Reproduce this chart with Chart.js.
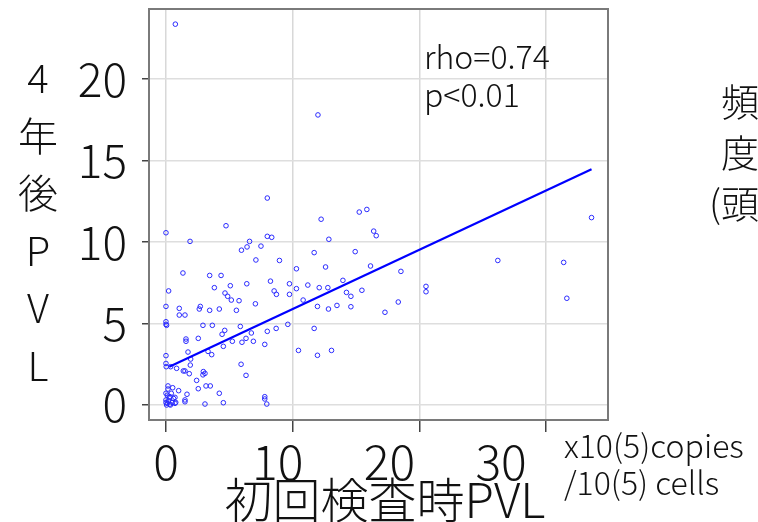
<!DOCTYPE html>
<html>
<head>
<meta charset="utf-8">
<script src="https://cdn.jsdelivr.net/npm/chart.js@4"></script>
<style>
  html, body { margin: 0; padding: 0; background: #fff; }
  #wrap { width: 758px; height: 522px; position: relative; }
</style>
</head>
<body>
<div id="wrap"><canvas id="pvl"></canvas></div>
<script>
// PVL at first exam vs PVL four years later (x10^5 copies / 10^5 cells)

const initialPvl = [
  0.74, 12.0, 8.0, 12.25, 15.26, 15.86, 33.6, 0.0, 4.74, 1.9,
  12.86, 8.0, 8.35, 6.6, 16.4, 16.6, 5.96, 6.4, 7.5, 11.7,
  14.94, 7.1, 8.96, 12.6, 10.3, 26.2, 31.4, 16.15, 18.55, 1.34,
  3.45, 4.35, 3.82, 5.08, 6.38, 8.25, 9.75, 11.2, 12.1, 12.78,
  10.3, 8.54, 8.72, 9.75, 0.21, 4.66, 4.87, 5.16, 5.77, 10.83,
  13.97, 14.25, 14.6, 15.47, 20.53, 20.53, 31.65, 2.71, 0.0, 1.05,
  2.63, 3.45, 4.21, 5.56, 7.06, 11.96, 12.83, 13.5, 14.6, 18.34,
  17.29, 1.05, 1.5, 0.0, 0.0, 0.05, 2.92, 3.66, 5.87, 9.62,
  11.7, 8.7, 8.0, 4.64, 4.43, 6.74, 6.32, 6.0, 6.9, 7.8,
  5.24, 4.53, 2.55, 1.58, 1.58, 3.32, 3.61, 1.74, 1.95, 1.92,
  0.0, 0.0, 0.02, 0.37, 0.84, 1.37, 1.5, 1.84, 2.95, 3.08,
  2.92, 5.93, 6.32, 10.46, 11.96, 13.07, 2.42, 3.16, 3.5, 2.55,
  4.21, 1.66, 1.0, 0.53, 0.16, 0.16, 0.0, 0.32, 0.71, 1.5,
  1.5, 0.77, 0.0, 0.05, 3.08, 4.53, 7.8, 7.8, 7.96, 0.42,
  0.1, 0.3, 0.5, 0.2, 0.0, 0.35, 0.6, 0.25, 0.1, 0.71,
];
const laterPvl = [
  23.37, 17.8, 12.7, 11.4, 11.84, 12.0, 11.5, 10.57, 11.0, 10.04,
  10.17, 10.35, 10.29, 10.04, 10.67, 10.39, 9.5, 9.7, 9.75, 9.35,
  9.41, 8.9, 8.87, 8.47, 8.36, 8.87, 8.75, 8.53, 8.2, 8.1,
  7.95, 7.95, 7.2, 7.32, 7.44, 7.6, 7.44, 7.36, 7.2, 7.2,
  7.14, 7.0, 6.79, 6.79, 7.0, 6.87, 6.67, 6.44, 6.4, 6.44,
  7.65, 6.91, 6.67, 7.04, 7.28, 6.95, 6.55, 6.05, 6.05, 5.93,
  5.89, 5.81, 5.89, 5.81, 6.21, 6.05, 5.89, 6.11, 6.03, 6.32,
  5.69, 5.52, 5.52, 5.11, 4.95, 4.89, 4.89, 4.89, 4.82, 4.95,
  4.7, 4.7, 4.52, 4.58, 4.34, 4.42, 4.09, 3.85, 3.91, 3.72,
  3.91, 3.6, 4.09, 4.05, 3.91, 3.29, 3.09, 3.25, 2.82, 2.45,
  3.03, 2.55, 2.35, 2.35, 2.25, 2.09, 2.09, 1.92, 2.05, 1.94,
  1.85, 2.5, 1.82, 3.35, 3.05, 3.35, 1.51, 1.17, 1.17, 1.0,
  0.72, 0.66, 0.88, 1.06, 1.17, 0.98, 0.72, 0.51, 0.47, 0.31,
  0.2, 0.16, 0.31, 0.0, 0.06, 0.14, 0.51, 0.37, 0.06, 0.72,
  0.1, 0.05, 0.15, 0.25, 0.15, 0.0, 0.4, 0.45, 0.6, 0.1,
];

// regression line end points
const fitX = [0.26, 33.6];
const fitY = [2.35, 14.46];

const xTicks = [0, 10, 20, 30];
const yTicks = [0, 5, 10, 15, 20];

const FONT = '"Noto Sans CJK JP", "Noto Sans", sans-serif';
const INK = '#111';

// keep the plot box exactly where the axes put it
function noOverflow(s) {
  s.paddingTop = 0;
  s.paddingBottom = 0;
  s.paddingLeft = 0;
  s.paddingRight = 0;
}

// ── Frame + free text ─────────────────────────────────────────────────────────

const decorations = {
  id: 'decorations',
  afterDraw(chart) {
    const { ctx, chartArea: a } = chart;
    ctx.save();
    ctx.strokeStyle = '#7a7a7a';
    ctx.lineWidth = 2;
    ctx.strokeRect(a.left, a.top, a.right - a.left, a.bottom - a.top);

    ctx.fillStyle = INK;
    ctx.textBaseline = 'middle';

    // correlation note
    ctx.textAlign = 'left';
    ctx.font = `300 32px ${FONT}`;
    ctx.fillText('rho=0.74', a.left + 275, 57);
    ctx.fillText('p<0.01', a.left + 275, 95);

    // vertical y title
    ctx.textAlign = 'center';
    ctx.font = `300 40px ${FONT}`;
    ['4', '年', '後', 'P', 'V', 'L'].forEach((ch, i) => {
      ctx.fillText(ch, 38, 78 + i * 57.5);
    });

    // x title and units
    ctx.font = `300 48px ${FONT}`;
    ctx.fillText('初回検査時PVL', 385, 500);
    ctx.textAlign = 'left';
    ctx.font = `300 32px ${FONT}`;
    ctx.fillText('x10(5)copies', 564, 446);
    ctx.fillText('/10(5) cells', 564, 483);

    // neighbouring axis title, runs off the right edge
    ctx.textAlign = 'center';
    ctx.font = `300 38px ${FONT}`;
    ['頻', '度', '(頭)'].forEach((s, i) => {
      ctx.fillText(s, 740, 102 + i * 51);
    });
    ctx.restore();
  }
};

// ── Chart ─────────────────────────────────────────────────────────────────────

new Chart(document.getElementById('pvl'), {
  type: 'scatter',
  data: {
    datasets: [
      {
        label: 'PVL',
        data: initialPvl.map((x, i) => ({ x, y: laterPvl[i] })),
        pointStyle: 'circle',
        pointRadius: 2.3,
        pointBorderWidth: 1,
        borderColor: '#2a2aff',
        backgroundColor: 'rgba(0,0,0,0)',
        order: 2,
      },
      {
        type: 'line',
        label: 'fit',
        data: fitX.map((x, i) => ({ x, y: fitY[i] })),
        borderColor: '#0000ff',
        borderWidth: 2.2,
        pointRadius: 0,
        fill: false,
        order: 1,
      },
    ],
  },
  options: {
    responsive: true,
    maintainAspectRatio: false,
    animation: false,
    layout: { padding: { left: 0, top: 9, right: 150, bottom: 0 } },
    plugins: { legend: { display: false }, tooltip: { enabled: false } },
    scales: {
      x: {
        type: 'linear',
        position: 'bottom',
        min: -1.34,
        max: 34.9,
        afterBuildTicks: s => { s.ticks = xTicks.map(v => ({ value: v })); },
        afterFit: s => { s.height = 12; noOverflow(s); },
        grid: { color: '#d8d8d8', lineWidth: 1.5, tickLength: 12, tickColor: '#444', tickWidth: 1.5 },
        border: { display: false },
        ticks: { display: false },
      },
      // tick labels sit on their own scale below the tick marks
      x2: {
        type: 'linear',
        position: 'bottom',
        min: -1.52,
        max: 39.57,
        afterBuildTicks: s => { s.ticks = xTicks.map(v => ({ value: v })); },
        afterFit: s => { s.height = 90; noOverflow(s); },
        grid: { display: false, drawTicks: false },
        border: { display: false },
        ticks: { padding: 1, color: INK, font: { family: FONT, size: 48, weight: '300' }, maxRotation: 0 },
      },
      y: {
        type: 'linear',
        min: -0.92,
        max: 24.3,
        afterBuildTicks: s => { s.ticks = yTicks.map(v => ({ value: v })); },
        afterFit: s => { s.width = 149; noOverflow(s); },
        grid: { color: '#dedede', lineWidth: 1.5, tickLength: 7, tickColor: '#444', tickWidth: 1.5 },
        border: { display: false },
        ticks: { padding: 15, color: INK, font: { family: FONT, size: 46, weight: '300' } },
      },
    },
  },
  plugins: [decorations],
});
</script>
</body>
</html>
